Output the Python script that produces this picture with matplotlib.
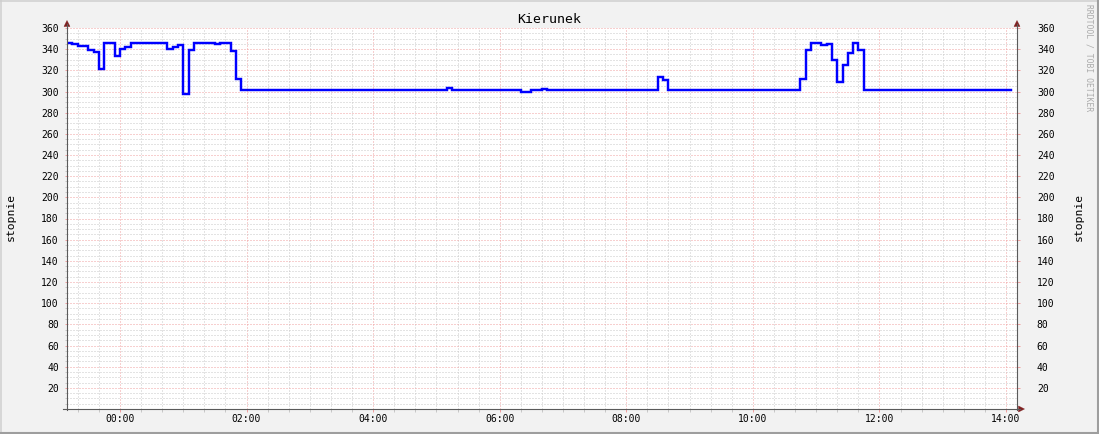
import matplotlib
matplotlib.use("Agg")
import matplotlib.pyplot as plt
from matplotlib.lines import Line2D
from matplotlib.patches import Polygon

# ---------------- data ----------------
title = "Kierunek"
y_label = "stopnie"
watermark = "RRDTOOL / TOBI OETIKER"

# step start times (minutes relative to 00:00) and wind direction (degrees)
step_minutes = [-50, -45, -40, -30, -25, -20, -15, -5, 0, 5, 10, 45, 50, 55, 60,
                65, 70, 90, 95, 105, 110, 115, 310, 315, 380, 390, 400, 405,
                510, 515, 520, 645, 650, 655, 665, 670, 675, 680, 685, 690,
                695, 700, 705]
direction_deg = [346, 345, 343, 339, 337, 321, 346, 334, 340, 342, 346, 340, 342, 344, 298,
                 339, 346, 345, 346, 338, 312, 301, 303, 301, 300, 301, 302, 301,
                 314, 311, 301, 312, 339, 346, 344, 345, 330, 309, 325, 336,
                 346, 339, 301]
end_minute = 845

x_tick_minutes = [0, 120, 240, 360, 480, 600, 720, 840]
x_tick_labels = ["00:00", "02:00", "04:00", "06:00", "08:00", "10:00", "12:00", "14:00"]
y_tick_values = list(range(20, 361, 20))
y_tick_labels = [str(v) for v in y_tick_values]

# ---------------- layout ----------------
W, H = 1099, 434
BACK = "#f2f2f2"
AXIS = "#5a5a5a"
ARROW = "#7f1f1f"
GRID = "#c8c8c8"
MGRID = "#f0a0a0"
MONO = "DejaVu Sans Mono"

def fx(x):
    return x / W

def fy(y):
    return 1 - y / H

fig = plt.figure(figsize=(W / 100, H / 100), dpi=100, facecolor=BACK)
px_left, px_right, px_top, px_bottom = 67, 1017, 28, 409
ax = fig.add_axes([fx(px_left), fy(px_bottom), (px_right - px_left) / W,
                   (px_bottom - px_top) / H])
ax.set_facecolor("white")

xs = step_minutes + [end_minute]
ys = direction_deg + [direction_deg[-1]]
ax.step(xs, ys, where="post", color="#0000ff", lw=1.75, zorder=5,
        solid_joinstyle="miter")

ax.set_xlim(-50.2, 850.4)
ax.set_ylim(0, 360)

ax.set_xticks(x_tick_minutes)
ax.set_xticklabels(x_tick_labels, fontfamily=MONO, fontsize=7)
ax.set_xticks(list(range(-40, 850, 20)), minor=True)
ax.set_yticks(y_tick_values)
ax.set_yticklabels(y_tick_labels, fontfamily=MONO, fontsize=7)
ax.set_yticks(list(range(5, 360, 5)), minor=True)

ax.grid(which="minor", color=GRID, lw=0.72, linestyle=(0, (1, 2)))
ax.grid(which="major", color=MGRID, lw=0.72, linestyle=(0, (1, 2)))
ax.set_axisbelow(True)

ax.tick_params(axis="x", which="major", direction="out", length=2.2, width=0.72,
               color=MGRID, pad=1.2, labelsize=7)
ax.tick_params(axis="x", which="minor", direction="out", length=2.2, width=0.72,
               color=GRID)
ax.tick_params(axis="y", which="major", direction="out", length=1.8, width=0.72,
               color=MGRID, pad=4.0, labelsize=7)
ax.tick_params(axis="y", which="minor", direction="out", length=1.4, width=0.72,
               color=GRID)
for s in ax.spines.values():
    s.set_visible(False)

# right-hand axis labels
ax2 = ax.twinx()
ax2.set_ylim(0, 360)
ax2.set_yticks(y_tick_values)
ax2.set_yticklabels(y_tick_labels, fontfamily=MONO, fontsize=7)
ax2.tick_params(axis="y", which="major", direction="out", length=1.8, width=0.72,
                color=MGRID, pad=12.5, labelsize=7)
for s in ax2.spines.values():
    s.set_visible(False)
ax2.patch.set_visible(False)

# axis lines (extend past the plot like rrdtool)
fig.add_artist(Line2D([fx(px_left), fx(px_left)], [fy(px_bottom + 0.5), fy(24)],
                      color=AXIS, lw=0.8))
fig.add_artist(Line2D([fx(px_right), fx(px_right)], [fy(px_bottom + 0.5), fy(24)],
                      color=AXIS, lw=0.8))
fig.add_artist(Line2D([fx(62.5), fx(1020)], [fy(px_bottom), fy(px_bottom)],
                      color=AXIS, lw=0.8))

# arrows
def tri(pts):
    fig.add_artist(Polygon([(fx(a), fy(b)) for a, b in pts], closed=True,
                           facecolor=ARROW, edgecolor=ARROW, lw=0.3,
                           transform=fig.transFigure))

tri([(67, 20.5), (64, 26.5), (70, 26.5)])
tri([(1017, 20.5), (1014, 26.5), (1020, 26.5)])
tri([(1024.5, 409), (1018.5, 406), (1018.5, 412)])

# texts
fig.text(fx(549.5), fy(19.5), title, ha="center", va="center",
         fontfamily=MONO, fontsize=9.5, color="black")
fig.text(fx(10.5), fy(217), y_label, ha="center", va="center", rotation=90,
         fontfamily=MONO, fontsize=8.2, color="black")
fig.text(fx(1078.5), fy(217), y_label, ha="center", va="center", rotation=90,
         fontfamily=MONO, fontsize=8.2, color="black")
fig.text(fx(1089.5), fy(4.5), watermark, ha="center", va="top", rotation=270,
         fontfamily=MONO, fontsize=5.8, color="#ababab")

# frame (shade A top/left, shade B bottom/right)
fig.add_artist(Line2D([0, 1], [fy(0.75), fy(0.75)], color="#cfcfcf", lw=1.1))
fig.add_artist(Line2D([fx(0.75), fx(0.75)], [0, 1], color="#cfcfcf", lw=1.1))
fig.add_artist(Line2D([0, 1], [fy(433), fy(433)], color="#9e9e9e", lw=1.5))
fig.add_artist(Line2D([fx(1098), fx(1098)], [0, 1], color="#9e9e9e", lw=1.5))

fig.savefig("out.png", dpi=100, facecolor=BACK)
